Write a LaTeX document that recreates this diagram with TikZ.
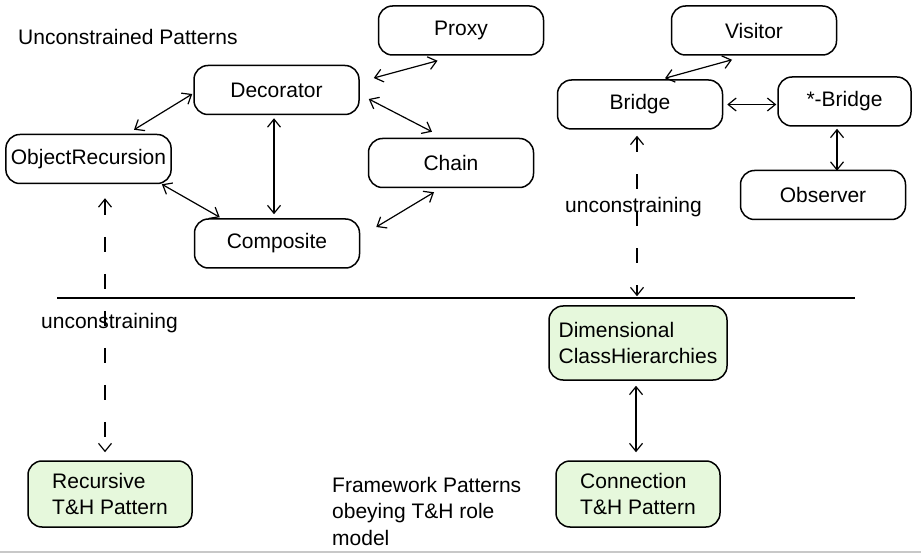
\documentclass[tikz,border=0pt]{standalone}
\usepackage{fontspec}
\setmainfont{Liberation Sans}
\usetikzlibrary{calc,positioning,arrows.meta}
\definecolor{thgreen}{HTML}{E6F8DC}
\definecolor{slidegray}{HTML}{C8C8C8}
\tikzset{
     pattern box/.style={draw, rounded corners=14pt, line width=1.5pt,
        minimum width=165pt, minimum height=49pt, inner sep=5pt},
     th box/.style={pattern box, fill=thgreen, align=left, minimum width=164pt, minimum height=66pt},
     label text/.style={anchor=west, inner sep=0pt},
     link/.style = {black, <->, >={Straight Barb[length=8pt,width=13pt]}, line width=1.2pt},
     unconstrain/.style = {link, dash pattern=on 15pt off 22pt},
    }

\begin{document}
\begin{tikzpicture}[x=1pt,y=-1pt,font=\fontsize{21}{26.5}\selectfont]
        \useasboundingbox (0,0) rectangle (921,553);
        % unconstrained patterns
        \node [label text] (uncon) at (18,37) {Unconstrained Patterns};
        \node [pattern box] (proxy) at (461,30.5) {Proxy};
        \node [pattern box] (dec)   at (276.5,90) {Decorator};
        \node [pattern box] (objr)  at (88.5,159) {ObjectRecursion};
        \node [pattern box] (chain) at (451,163) {Chain};
        \node [pattern box] (comp)  at (277,243.5) {Composite};
        \node [pattern box] (vis)   at (754,30.5) {Visitor};
        \node [pattern box] (bridge) at (640,104.5) {Bridge};
        \node [pattern box, minimum width=133pt] (sbridge) at (844.5,101.5) {*-Bridge};
        \node [pattern box] (obs)   at (823,195) {Observer};
        % framework patterns
        \node [th box, minimum width=178pt, minimum height=74pt] (dim) at (638,343) {Dimensional\\ClassHierarchies};
        \node [th box] (rec)  at (110,494) {Recursive\\T\&H Pattern};
        \node [th box] (conn) at (638,494) {Connection\\T\&H Pattern};
        \node [label text, align=left] (frame) at (332,511) {Framework Patterns\\obeying T\&H role\\model};
        \node [label text] (ulabelr) at (565,207) {unconstraining};
        \node [label text] (ulabell) at (41,323) {unconstraining};
        \coordinate (ruleL) at (57,298);
        \coordinate (ruleR) at (855,298);
        \coordinate (slideL) at (0,551.5);
        \coordinate (slideR) at (921,551.5);
        \draw [line width=1.5pt] (ruleL) -- (ruleR);
        \draw [slidegray, line width=2pt] (slideL) -- (slideR);
        \draw [link] ($(dec.east)+(14,-12)$) -- ($(proxy.south)+(-23.5,5)$);
        \draw [link] ($(dec.west)+(-1,4)$) -- ($(objr.north)+(45.5,-4)$);
        \draw [link] ($(dec.east)+(9,9)$) -- ($(chain.north)+(-19,-6)$);
        \draw [link] ($(dec.south)+(-2.5,3)$) -- ($(comp.north)+(-3,-4)$);
        \draw [link] ($(objr.south east)+(-10,0)$) -- ($(comp.north west)+(26,-1)$);
        \draw [link] ($(chain.south)+(-17,4)$) -- ($(comp.east)+(16,-16.5)$);
        \draw [link] ($(bridge.north)+(25,-1)$) -- ($(vis.south)+(-22,4)$);
        \draw [link] ($(bridge.east)+(4,0)$) -- ($(sbridge.west)+(-1,3)$);
        \draw [link] ($(sbridge.south)+(-7.5,2)$) -- ($(obs.north)+(14,1)$);
        \draw [link] ($(dim.south)+(-2,5)$) -- ($(conn.north)+(-2,-8)$);
        \draw [unconstrain] ($(objr.south)+(16.5,14)$) -- ($(rec.north)+(-5,-8)$);
        \draw [unconstrain] ($(bridge.south)+(-3,6)$) -- ($(dim.north)+(-1,-9)$);
    \end{tikzpicture}
\end{document}
